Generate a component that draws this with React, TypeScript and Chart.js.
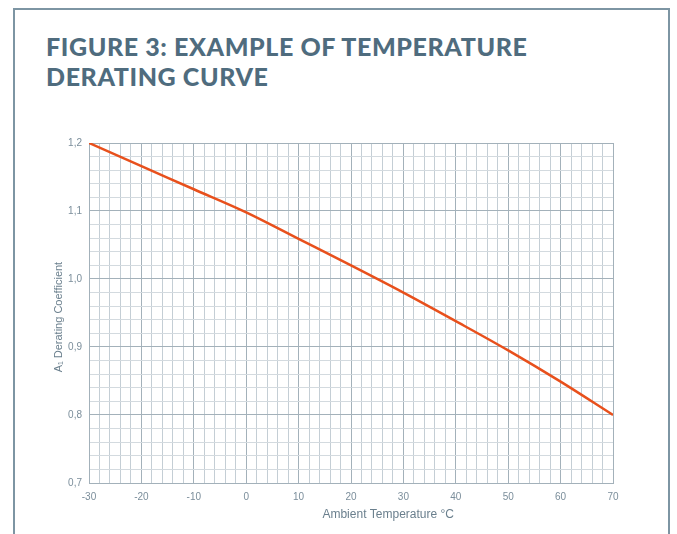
import React, { useEffect, useRef } from "react";
import { Chart, registerables } from "chart.js";

Chart.register(...registerables);

const temperatures = [-30, -20, -10, 0, 10, 20, 30, 40, 50, 60, 70];
const coefficients = [1.2, 1.166, 1.132, 1.098, 1.059, 1.02, 0.98, 0.938, 0.895, 0.849, 0.8];
const titleLines = ["FIGURE 3: EXAMPLE OF TEMPERATURE", "DERATING CURVE"];
const xTitle = "Ambient Temperature °C";
const yTitle = "A₁ Derating Coefficient";

const TICK_COLOR = "#7b8e9b";
const MAJOR = "#a3b1ba";
const MINOR_X = "#c4ced5";
const MINOR_Y = "#d3dadf";

const fmt = (v: number) => v.toFixed(1).replace(".", ",");

const axisTitles = {
  id: "axisTitles",
  afterDraw(chart: any) {
    const { ctx, chartArea } = chart;
    ctx.save();
    ctx.fillStyle = "#6a7f8d";
    ctx.font = "12px 'Liberation Sans', Arial, sans-serif";
    ctx.textAlign = "center";
    ctx.textBaseline = "middle";
    ctx.fillText(xTitle, chartArea.left + chartArea.width * 0.571, chartArea.bottom + 32);
    ctx.translate(chartArea.left - 30, chartArea.top + chartArea.height * 0.512);
    ctx.rotate(-Math.PI / 2);
    ctx.font = "11px 'Liberation Sans', Arial, sans-serif";
    ctx.fillText(yTitle, 0, 0);
    ctx.restore();
  },
};

export default function App() {
  const ref = useRef<HTMLCanvasElement>(null);
  useEffect(() => {
    if (!ref.current) return;
    const chart = new Chart(ref.current, {
      type: "line",
      data: {
        datasets: [
          {
            data: temperatures.map((t, i) => ({ x: t, y: coefficients[i] })),
            borderColor: "#e8501c",
            borderWidth: 2.5,
            pointRadius: 0,
            cubicInterpolationMode: "monotone",
          },
        ],
      },
      options: {
        animation: false,
        responsive: false,
        maintainAspectRatio: false,
        layout: { padding: { left: 0, right: 64, top: 23, bottom: 0 } },
        plugins: { legend: { display: false }, tooltip: { enabled: false } },
        scales: {
          x: {
            type: "linear",
            min: -30,
            max: 70,
            ticks: {
              stepSize: 2,
              autoSkip: false,
              maxRotation: 0,
              padding: 8,
              color: TICK_COLOR,
              font: { size: 10, family: "'Liberation Sans', Arial, sans-serif" },
              callback: (v: any) => (Math.round(v) % 10 === 0 ? String(Math.round(v)) : ""),
            },
            grid: {
              drawTicks: false,
              lineWidth: 1,
              color: (c: any) => (Math.round(c.tick.value) % 10 === 0 ? MAJOR : MINOR_X),
            },
            border: { color: MAJOR, width: 1 },
            afterFit: (s: any) => {
              s.height = 51;
            },
          },
          y: {
            type: "linear",
            min: 0.7,
            max: 1.2,
            ticks: {
              stepSize: 0.02,
              autoSkip: false,
              padding: 7,
              color: TICK_COLOR,
              font: { size: 10, family: "'Liberation Sans', Arial, sans-serif" },
              callback: (v: any) => (Math.round(v * 100) % 10 === 0 ? fmt(v) : ""),
            },
            grid: {
              drawTicks: false,
              lineWidth: 1,
              color: (c: any) => (Math.round(c.tick.value * 100) % 10 === 0 ? MAJOR : MINOR_Y),
            },
            border: { color: MAJOR, width: 1 },
            afterFit: (s: any) => {
              s.width = 89;
            },
          },
        },
      },
      plugins: [axisTitles],
    });
    return () => chart.destroy();
  }, []);

  return (
    <div style={{ position: "absolute", left: 0, top: 0, width: 677, height: 534, background: "#fff", overflow: "hidden" }}>
      <div
        style={{
          position: "absolute",
          left: 13,
          top: 8,
          width: 657,
          height: 560,
          borderLeft: "2px solid #7d95a3",
          borderTop: "2px solid #7d95a3",
          borderRight: "2px solid #7d95a3",
          boxSizing: "border-box",
        }}
      />
      <div
        style={{
          position: "absolute",
          left: 46,
          top: 31,
          fontFamily: "Lato, 'Open Sans', sans-serif",
          fontWeight: 900,
          fontSize: 25,
          lineHeight: "30px",
          color: "#4f6c7e",
          letterSpacing: 0.6,
          whiteSpace: "nowrap",
        }}
      >
        {titleLines.map((l) => (
          <div key={l}>{l}</div>
        ))}
      </div>
      <canvas ref={ref} width={677} height={414} style={{ position: "absolute", left: 0, top: 120, width: 677, height: 414 }} />
    </div>
  );
}
